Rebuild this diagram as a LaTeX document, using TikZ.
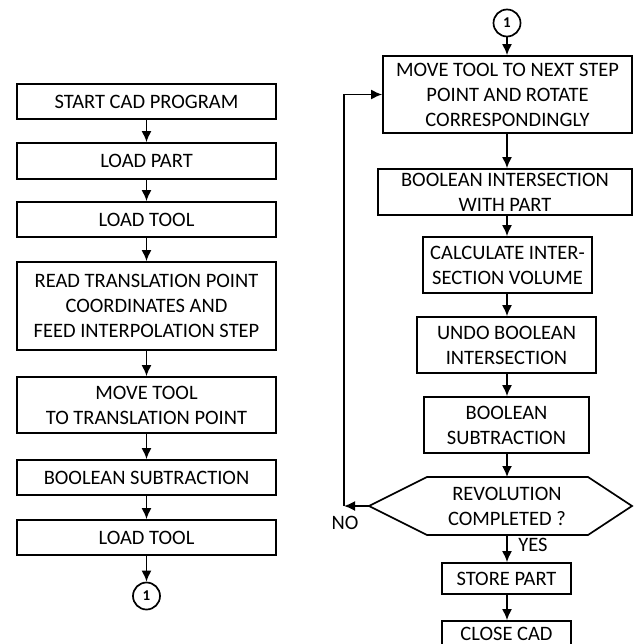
\documentclass[tikz,border=0pt]{standalone}
\usepackage{fontspec}
\setmainfont{Carlito}
\usetikzlibrary{arrows.meta}
\begin{document}
\begin{tikzpicture}[x=1pt,y=-1pt,
  box/.style={draw, line width=1.7pt, align=center, inner sep=0pt, font=\fontsize{20.5}{25}\selectfont},
  conn/.style={circle, draw, line width=1.7pt, minimum size=27pt, inner sep=0pt, font=\bfseries\fontsize{15}{15}\selectfont},
  arr/.style={line width=1.7pt, -{Latex[length=11pt,width=10pt]}},
  lbl/.style={font=\fontsize{20.5}{25}\selectfont, inner sep=0pt, align=center}]
\useasboundingbox[fill=white] (0,0) rectangle (633,644);
% left column
\node[box, minimum width=259pt, minimum height=35pt] (n1) at (146.5,101.5) {START CAD PROGRAM};
\node[box, minimum width=259pt, minimum height=36pt] (n2) at (146.5,161) {LOAD PART};
\node[box, minimum width=259pt, minimum height=35pt] (n3) at (146.5,219.5) {LOAD TOOL};
\node[box, minimum width=259pt, minimum height=88pt] (n4) at (146.5,306) {READ TRANSLATION POINT\\COORDINATES AND\\FEED INTERPOLATION STEP};
\node[box, minimum width=259pt, minimum height=56pt] (n5) at (146.5,405) {MOVE TOOL\\TO TRANSLATION POINT};
\node[box, minimum width=259pt, minimum height=35pt] (n6) at (146.5,477.5) {BOOLEAN SUBTRACTION};
\node[box, minimum width=259pt, minimum height=35pt] (n7) at (146.5,537.5) {LOAD TOOL};
\node[conn] (c1) at (146.5,596) {1};
\draw[arr] (n1) -- (n2);
\draw[arr] (n2) -- (n3);
\draw[arr] (n3) -- (n4);
\draw[arr] (n4) -- (n5);
\draw[arr] (n5) -- (n6);
\draw[arr] (n6) -- (n7);
\draw[arr] (n7) -- (c1);
% right column
\node[conn] (c2) at (507,23) {1};
\node[box, minimum width=249pt, minimum height=77pt] (r1) at (507.5,94.5) {MOVE TOOL TO NEXT STEP\\POINT AND ROTATE\\CORRESPONDINGLY};
\node[box, minimum width=254pt, minimum height=46pt] (r2) at (505,192) {BOOLEAN INTERSECTION\\WITH PART};
\node[box, minimum width=169pt, minimum height=56pt] (r3) at (507.5,265) {CALCULATE INTER-\\SECTION VOLUME};
\node[box, minimum width=179pt, minimum height=56pt] (r4) at (506.5,345) {UNDO BOOLEAN\\INTERSECTION};
\node[box, minimum width=165pt, minimum height=56pt] (r5) at (506.5,425) {BOOLEAN\\SUBTRACTION};
\coordinate (hL) at (369,506);
\coordinate (hTL) at (427,477);
\coordinate (hTR) at (588,477);
\coordinate (hR) at (632,506);
\coordinate (hBR) at (588,535);
\coordinate (hBL) at (427,535);
\coordinate (hT) at (507,477);
\coordinate (hB) at (507,535);
\draw[line width=1.7pt] (hL) -- (hTL) -- (hTR) -- (hR) -- (hBR) -- (hBL) -- cycle;
\node[lbl] (hex) at (507,506) {REVOLUTION\\COMPLETED ?};
\node[box, minimum width=129pt, minimum height=31pt] (r6) at (506.5,578.5) {STORE PART};
\node[box, minimum width=129pt, minimum height=25pt] (r7) at (506.5,633.5) {CLOSE CAD};
\node[lbl] (yes) at (533,545) {YES};
\node[lbl] (no) at (345,523) {NO};
\coordinate (corner) at (344,506);
\draw[arr] (c2) -- (c2 |- r1.north);
\draw[arr] (r1.south -| c2) -- (c2 |- r2.north);
\draw[arr] (r2.south -| c2) -- (c2 |- r3.north);
\draw[arr] (r3.south -| c2) -- (c2 |- r4.north);
\draw[arr] (r4.south -| c2) -- (c2 |- r5.north);
\draw[arr] (r5.south -| c2) -- (hT);
\draw[arr] (hB) -- (c2 |- r6.north);
\draw[arr] (r6.south -| c2) -- (c2 |- r7.north);
\draw[arr] (hL) -- (corner);
\draw[arr] (corner) -- (corner |- r1.west) -- (r1.west);
\end{tikzpicture}
\end{document}
